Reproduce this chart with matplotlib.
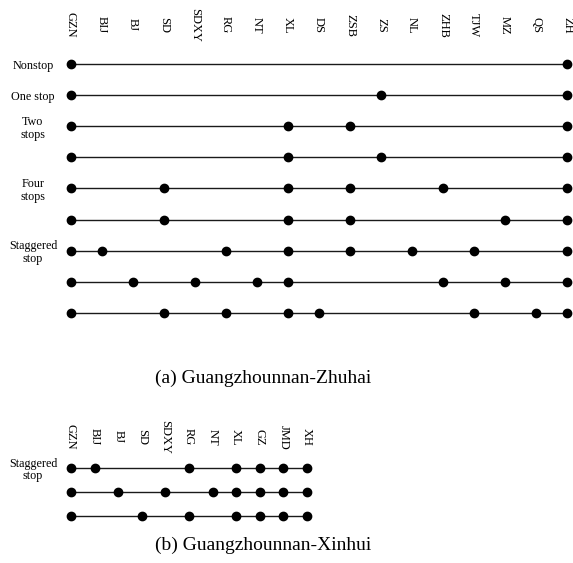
import matplotlib.pyplot as plt

plt.rcParams['font.family'] = ['Liberation Serif', 'DejaVu Serif']

# (a) Guangzhounnan-Zhuhai
stations_a = ["GZN", "BIJ", "BJ", "SD", "SDXY", "RG", "NT", "XL", "DS",
              "ZSB", "ZS", "NL", "ZHB", "TJW", "MZ", "QS", "ZH"]
stops_a = [
    ["GZN", "ZH"],
    ["GZN", "ZS", "ZH"],
    ["GZN", "XL", "ZSB", "ZH"],
    ["GZN", "XL", "ZS", "ZH"],
    ["GZN", "SD", "XL", "ZSB", "ZHB", "ZH"],
    ["GZN", "SD", "XL", "ZSB", "MZ", "ZH"],
    ["GZN", "BIJ", "RG", "XL", "ZSB", "NL", "TJW", "ZH"],
    ["GZN", "BJ", "SDXY", "NT", "XL", "ZHB", "MZ", "ZH"],
    ["GZN", "SD", "RG", "XL", "DS", "TJW", "QS", "ZH"],
]
groups_a = {0: "Nonstop", 1: "One stop", 2: "Two\nstops", 4: "Four\nstops",
            6: "Staggered\nstop"}

# (b) Guangzhounnan-Xinhui
stations_b = ["GZN", "BIJ", "BJ", "SD", "SDXY", "RG", "NT", "XL", "GZ", "JMD", "XH"]
stops_b = [
    ["GZN", "BIJ", "RG", "XL", "GZ", "JMD", "XH"],
    ["GZN", "BJ", "SDXY", "NT", "XL", "GZ", "JMD", "XH"],
    ["GZN", "SD", "RG", "XL", "GZ", "JMD", "XH"],
]
groups_b = {0: "Staggered\nstop"}

W, H = 573, 563
fig = plt.figure(figsize=(W / 100, H / 100), dpi=100)


def panel(left, right, top, bottom, stations, stops, groups, label_off, caption, cap_y):
    ax = fig.add_axes([left / W, 1 - bottom / H, (right - left) / W, (bottom - top) / H])
    ax.set_xlim(0, len(stations) - 1)
    ax.set_ylim(len(stops) - 1, 0)
    ax.axis('off')
    for r, row in enumerate(stops):
        xs = [stations.index(s) for s in row]
        ax.plot([0, len(stations) - 1], [r, r], color='#1a1a1a', lw=1.0,
                solid_capstyle='butt', clip_on=False)
        ax.plot(xs, [r] * len(xs), 'o', color='black', ms=6, clip_on=False)
    for i, s in enumerate(stations):
        ax.annotate(s, xy=(i, 0), xytext=(0, label_off), textcoords='offset pixels',
                    rotation=-90, ha='center', va='center', fontsize=9)
    for r, g in groups.items():
        ax.annotate(g, xy=(0, r), xytext=(-38, -2), textcoords='offset pixels',
                    ha='center', va='center', multialignment='center', fontsize=8.7,
                    linespacing=1.1)
    fig.text(263 / W, 1 - cap_y / H, caption, ha='center', va='center', fontsize=14)
    return ax


panel(71, 567, 64, 313, stations_a, stops_a, groups_a, 39,
      "(a) Guangzhounnan-Zhuhai", 378)
panel(71, 307, 468, 516, stations_b, stops_b, groups_b, 31,
      "(b) Guangzhounnan-Xinhui", 545)

fig.savefig("out.png", dpi=100)
